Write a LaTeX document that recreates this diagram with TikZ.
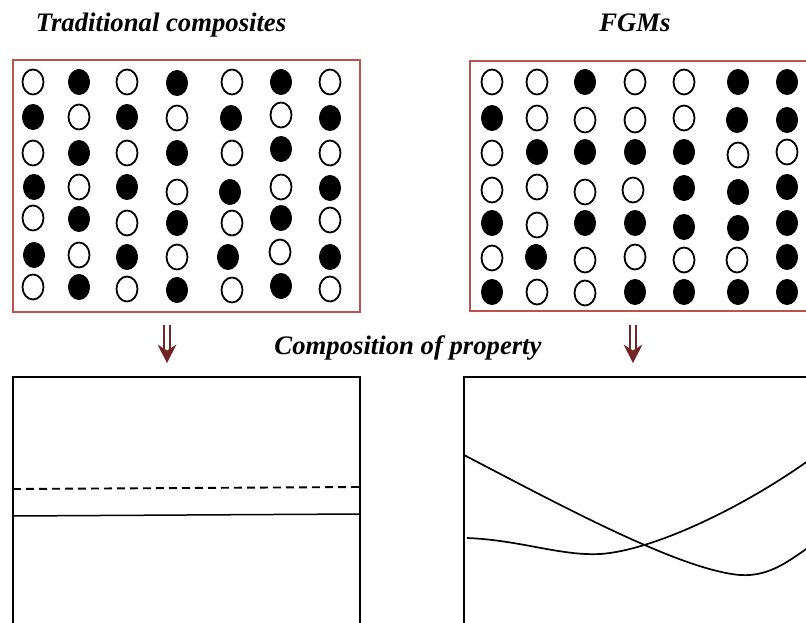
\documentclass[tikz,border=0pt]{standalone}
\usepackage{fontspec}
\setmainfont{Liberation Serif}
\definecolor{frame}{RGB}{192,80,77}
\definecolor{arrowred}{RGB}{115,35,35}
\tikzset{
  title/.style={font=\fontsize{26.7}{30}\selectfont\bfseries\itshape, inner sep=0pt, anchor=base},
  gridframe/.style={draw=frame, line width=2.2pt},
  plotframe/.style={draw=black, line width=1.6pt},
  opendot/.style={draw=black, line width=1.8pt, fill=white},
  filleddot/.style={draw=black, line width=1pt, fill=black},
  curve/.style={draw=black, line width=1.7pt},
  shaft/.style={draw=arrowred, line width=2pt},
  head/.style={fill=arrowred}
}
\begin{document}
\begin{tikzpicture}[x=1pt, y=-1pt]
\useasboundingbox (0,0) rectangle (806,623);
\clip (0,0) rectangle (806,623);

% titles
\node[title] (ttrad) at (161,32) {Traditional composites};
\node[title] (tfgm) at (635,32) {FGMs};
\node[title] (tprop) at (408,354) {Composition of property};

% microstructure frames
\path[gridframe] (13,60) rectangle (360,312);
\path[gridframe] (470,61) rectangle (812,311);

% traditional composite: alternating phases
\foreach \x/\y/\s in {
  33/82/opendot, 79/82/filleddot, 127/82/opendot, 177/83/filleddot, 232/82/opendot, 281/82/filleddot, 330/82/opendot,
  33/117/filleddot, 79/117/opendot, 127/117/filleddot, 177/118/opendot, 231/118/filleddot, 281/115/opendot, 330/118/filleddot,
  33/153/opendot, 79/153/filleddot, 127/153/opendot, 177/153/filleddot, 232/153/opendot, 281/149/filleddot, 330/153/opendot,
  34/187/filleddot, 79/187/opendot, 127/187/filleddot, 177/192/opendot, 230/192/filleddot, 281/187/opendot, 330/188/filleddot,
  33/218/opendot, 79/219/filleddot, 127/223/opendot, 177/223/filleddot, 232/223/opendot, 281/218/filleddot, 330/220/opendot,
  34/255/filleddot, 79/255/opendot, 127/257/filleddot, 177/257/opendot, 228/257/filleddot, 280/252/opendot, 330/257/filleddot,
  33/287/opendot, 79/287/filleddot, 127/289/opendot, 177/290/filleddot, 232/290/opendot, 281/286/filleddot, 330/289/opendot}
  \path[\s] (\x,\y) ellipse [x radius=10.5pt, y radius=12.5pt];

% FGM: graded distribution
\foreach \x/\y/\s in {
  492/82/opendot, 537/82/opendot, 585/82/filleddot, 635/82/opendot, 684/82/opendot, 738/82/filleddot, 787/82/filleddot,
  492/118/filleddot, 537/118/opendot, 585/120/opendot, 635/120/opendot, 684/118/opendot, 737/120/filleddot, 787/120/filleddot,
  492/153/opendot, 537/152/filleddot, 585/152/filleddot, 635/152/filleddot, 684/152/filleddot, 738/155/opendot, 787/152/opendot,
  492/190/opendot, 537/187/opendot, 585/192/opendot, 633/190/opendot, 684/188/filleddot, 738/192/filleddot, 787/187/filleddot,
  492/223/filleddot, 537/225/opendot, 585/223/filleddot, 635/223/filleddot, 684/227/filleddot, 738/228/filleddot, 787/223/filleddot,
  492/258/opendot, 536/257/filleddot, 585/260/opendot, 635/257/opendot, 684/260/opendot, 737/260/opendot, 787/257/filleddot,
  492/292/filleddot, 537/292/opendot, 585/293/opendot, 635/292/filleddot, 684/292/filleddot, 738/292/filleddot, 787/292/filleddot}
  \path[\s] (\x,\y) ellipse [x radius=10.5pt, y radius=12.5pt];

% downward double arrows
\foreach \ax/\nm in {167/la, 633/ra} {
  \coordinate (\nm top) at (\ax,325);
  \coordinate (\nm tip) at (\ax,363);
  \draw[shaft] ([xshift=-2.7pt]\nm top) -- ++(0,25);
  \draw[shaft] ([xshift=2.7pt]\nm top) -- ++(0,25);
  \fill[head] (\nm tip) -- ++(-9.5,-18.5) -- ++(9.5,6) -- ++(9.5,-6) -- cycle;
}

% property plots
\path[plotframe] (13,630) -- (13,377) -- (360,377) -- (360,630);
\path[plotframe] (464,630) -- (464,377) -- (812,377);

% traditional: constant properties
\draw[black, line width=1.9pt, dash pattern=on 8pt off 5pt] (13,489) -- (360,487);
\draw[black, line width=1.5pt] (13,516) -- (360,514);

% FGM: varying properties
\path[curve] (464,455) .. controls (560,505) and (680,570) .. (740,575)
                       .. controls (770,577) and (790,560) .. (812,545);
\path[curve] (467,538) .. controls (520,540) and (560,556) .. (600,554)
                       .. controls (650,551) and (740,510) .. (812,458);
\end{tikzpicture}
\end{document}
